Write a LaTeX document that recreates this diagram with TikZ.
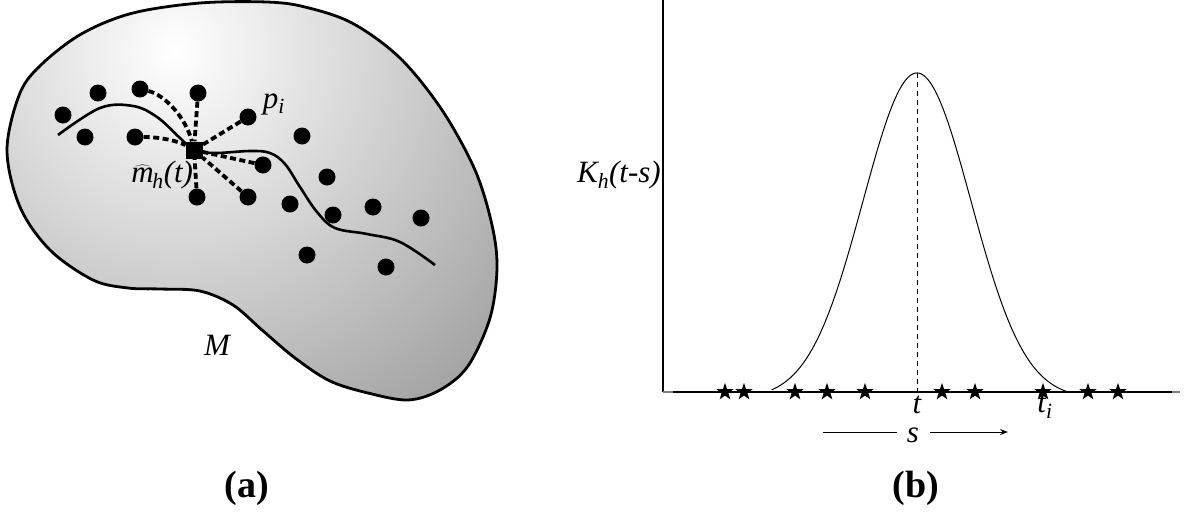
\documentclass[tikz,border=0pt]{standalone}
\usepackage{fontspec}
\setmainfont{Liberation Serif}
\usetikzlibrary{shapes.geometric,arrows.meta}
\begin{document}
\begin{tikzpicture}[x=1pt,y=-1pt,
  dot/.style={circle,fill=black,inner sep=0pt,minimum size=17pt},
  estbox/.style={rectangle,fill=black,inner sep=0pt,minimum size=17pt},
  link/.style={line width=3.8pt,dash pattern=on 6pt off 3.5pt},
  trend/.style={line width=2.6pt},
  starmark/.style={star,star points=5,star point ratio=2.5,fill=black,inner sep=0pt,minimum size=18pt},
  lbl/.style={font=\fontsize{31}{35}\selectfont\itshape,inner sep=0pt},
  panellabel/.style={font=\fontsize{38}{42}\selectfont\bfseries,inner sep=0pt},
  thinline/.style={line width=1pt}
]
\useasboundingbox (0,0) rectangle (1195,512);

% ---------- panel (a): the manifold ----------
\begin{scope}
  \clip plot[smooth cycle,tension=0.55] coordinates {(7,150) (20,93) (43,63) (83,33) (133,13) (200,3) (267,2) (305,7) (352,23) (400,58) (442,110) (475,170) (492,225) (497,268) (490,318) (468,366) (440,390) (408,400) (368,393) (330,381) (295,358) (262,330) (233,305) (200,291) (160,289) (128,288) (93,280) (50,250) (20,207)};
  \shade[inner color=white,outer color=black!38] (175,50) circle (460);
\end{scope}
\draw[line width=2.8pt] plot[smooth cycle,tension=0.55] coordinates {(7,150) (20,93) (43,63) (83,33) (133,13) (200,3) (267,2) (305,7) (352,23) (400,58) (442,110) (475,170) (492,225) (497,268) (490,318) (468,366) (440,390) (408,400) (368,393) (330,381) (295,358) (262,330) (233,305) (200,291) (160,289) (128,288) (93,280) (50,250) (20,207)};

% the curve
\draw[trend] plot[smooth,tension=0.6] coordinates {(58,135) (100,108) (133,106) (157,117) (180,138) (194,150) (215,153) (250,151) (270,153) (285,164) (300,187) (317,212) (335,228) (367,234) (400,242) (435,265)};

% data points
\node[dot] (a1) at (63,115) {};
\node[dot] (a2) at (98,93) {};
\node[dot] (a3) at (140,89) {};
\node[dot] (a4) at (198,93) {};
\node[dot] (a5) at (248,117) {};
\node[dot] (a6) at (85,137) {};
\node[dot] (a7) at (135,137) {};
\node[dot] (a8) at (302,136) {};
\node[dot] (a9) at (263,165) {};
\node[dot] (a10) at (327,177) {};
\node[dot] (a11) at (197,197) {};
\node[dot] (a12) at (248,197) {};
\node[dot] (a13) at (290,204) {};
\node[dot] (a14) at (333,215) {};
\node[dot] (a15) at (373,207) {};
\node[dot] (a16) at (421,218) {};
\node[dot] (a17) at (307,255) {};
\node[dot] (a18) at (386,267) {};

\node[estbox] (est) at (194,150) {};

% dashed links
\draw[link] (a3) .. controls (165,95) and (186,118) .. (est);
\draw[link] (a7) .. controls (160,137) and (178,141) .. (est);
\draw[link] (a4) -- (est);
\draw[link] (a5) -- (est);
\draw[link] (a9) -- (est);
\draw[link] (a12) -- (est);
\draw[link] (a11) -- (est);

% labels
\node[lbl] (pi) at (274,104) {p\textsubscript{i}};
\node[lbl] (mh) at (160,175) {$\widehat{\hbox to 1.0em{\hss\itshape m\hss}}$\kern-0.18em\textsubscript{h}(t)};
\node[lbl] (M) at (217,345) {M};
\node[panellabel] (la) at (247,488) {(a)};

% ---------- panel (b): the kernel ----------
\coordinate (ytop) at (663,0);
\coordinate (orig) at (663,392);
\coordinate (xend) at (1180,392);
\coordinate (bl) at (673,392);
\coordinate (br) at (1172,392);
\coordinate (peak) at (917,73);
\coordinate (foot) at (917,392);
\draw[line width=1.5pt] (ytop) -- (orig);
\draw[line width=2pt,black!50] (orig) -- (xend);
\draw[line width=1.2pt] (bl) -- (br);
\draw[thinline] plot[domain=-2.69:2.89,samples=150] ({917+54*\x},{392-319*max(exp(-\x*\x/2)-0.02,0)/0.98});
\draw[thinline,dash pattern=on 5pt off 4pt] (peak) -- (foot);

\foreach \i/\xx in {1/725,2/744,3/795,4/827,5/865,6/942,7/975,8/1043,9/1088,10/1118}{
  \node[starmark] (st\i) at (\xx,392) {};
}

\node[lbl,anchor=east] (K) at (661,175) {K\textsubscript{h}(t-s)};
\node[lbl] (t) at (917,405) {t};
\node[lbl] (ti) at (1045,407) {t\textsubscript{i}};
\node[lbl] (s) at (913,435) {s};
\coordinate (sl) at (823,432);
\coordinate (sl2) at (897,432);
\coordinate (sr) at (930,432);
\coordinate (sr2) at (1008,432);
\draw[thinline] (sl) -- (sl2);
\draw[thinline,-{Stealth[length=8pt,width=6pt]}] (sr) -- (sr2);
\node[panellabel] (lb) at (916,488) {(b)};
\end{tikzpicture}
\end{document}
